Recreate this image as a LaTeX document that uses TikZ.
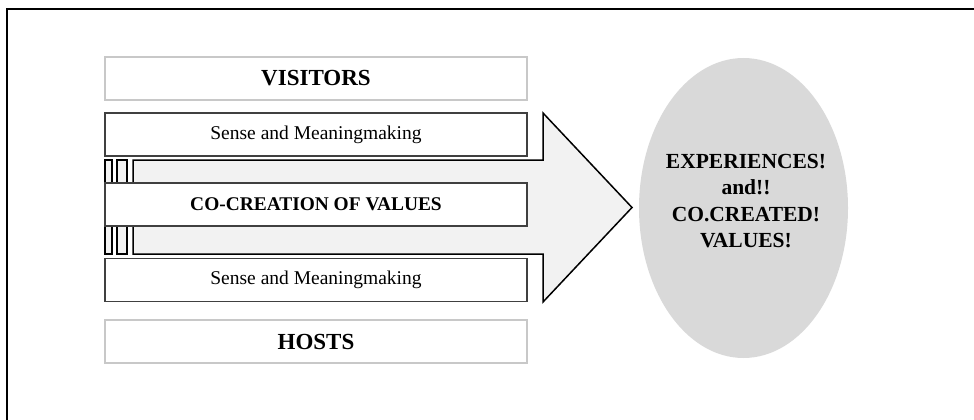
\documentclass[tikz,border=0pt]{standalone}
\usepackage{fontspec}
\setmainfont{Liberation Serif}
\usetikzlibrary{shapes.geometric}
\definecolor{arrowfill}{HTML}{F2F2F2}
\definecolor{ovalfill}{HTML}{D9D9D9}
\definecolor{lightedge}{HTML}{C8C8C8}
\definecolor{darkedge}{HTML}{404040}
\tikzset{
  rolebox/.style={draw=lightedge, line width=1.3pt, fill=white, minimum width=422pt, minimum height=43pt, inner sep=0pt, outer sep=0pt, font=\fontsize{23}{27}\selectfont\bfseries},
  sensebox/.style={draw=darkedge, line width=1.3pt, fill=white, minimum width=422pt, minimum height=43pt, inner sep=0pt, outer sep=0pt, font=\fontsize{19.5}{23}\selectfont},
  cobox/.style={sensebox, font=\fontsize{19.4}{23}\selectfont\bfseries},
  arrowshape/.style={draw=black, line width=1.5pt, fill=arrowfill, line join=miter},
  oval/.style={ellipse, fill=ovalfill, draw=none, minimum width=209pt, minimum height=300pt, inner sep=0pt},
  ovaltext/.style={align=center, font=\fontsize{21.5}{26.5}\selectfont\bfseries, inner sep=0pt},
  frameline/.style={line width=2pt, black}
}
\begin{document}
\begin{tikzpicture}[x=1pt, y=-1pt]
\useasboundingbox (0,0) rectangle (974,420);
% frame (top and left edges visible)
\coordinate (fTL) at (6.5,9.5);
\coordinate (fTR) at (974,9.5);
\coordinate (fBL) at (6.5,420);
\draw[frameline] (fTR) -- (fTL) -- (fBL);
% striped arrow
\draw[arrowshape] (105,160) rectangle (112,254);
\draw[arrowshape] (117,160) rectangle (127,254);
\draw[arrowshape] (133,160) -- (543,160) -- (543,113) -- (632,207.5) -- (543,302) -- (543,254) -- (133,254) -- cycle;
% boxes
\node[rolebox] (visitors) at (316,78.5) {VISITORS};
\node[sensebox] (sense1) at (316,134.5) {Sense and Meaningmaking};
\node[cobox] (cocreation) at (316,204.5) {CO-CREATION OF VALUES};
\node[sensebox] (sense2) at (316,280) {Sense and Meaningmaking};
\node[rolebox] (hosts) at (316,341.5) {HOSTS};
% outcome oval
\node[oval] (outcome) at (743.5,208) {};
\node[ovaltext] (outcometext) at (746,201) {EXPERIENCES!\\and!!\\CO.CREATED!\\VALUES!};
\end{tikzpicture}
\end{document}
